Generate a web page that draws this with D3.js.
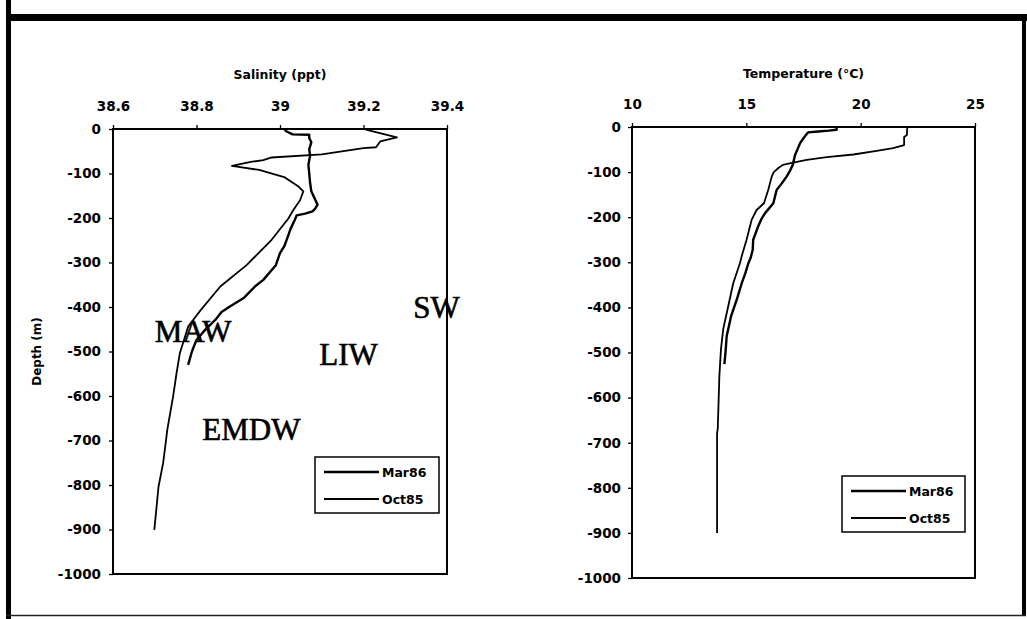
<!DOCTYPE html>
<html>
<head>
<meta charset="utf-8">
<script src="https://cdn.jsdelivr.net/npm/d3@7"></script>
<style>
  body { margin: 0; background: #fff; }
  svg { display: block; }
  .tick text { font-family: "DejaVu Sans", Arial, sans-serif; font-weight: bold; font-size: 13.5px; fill: #000; }
  .tick line { stroke: #000; stroke-width: 1.3px; }
  .domain { display: none; }
</style>
</head>
<body>
<svg id="chart" width="1027" height="619"></svg>
<script>
// Tick values
const depthTicks = [0, -100, -200, -300, -400, -500, -600, -700, -800, -900, -1000];
const salinityTicks = [38.6, 38.8, 39, 39.2, 39.4];
const temperatureTicks = [10, 15, 20, 25];
const seriesNames = ["Mar86", "Oct85"];

// Salinity profiles: [salinity (ppt), depth (m)]
const salinityMar86 = [
  [39.01, 0], [39.015, -5], [39.03, -12], [39.07, -13], [39.07, -20], [39.075, -30],
  [39.07, -45], [39.072, -60], [39.068, -80], [39.07, -100], [39.072, -120], [39.075, -140],
  [39.08, -150], [39.085, -160], [39.09, -170], [39.085, -178], [39.078, -185], [39.06, -190],
  [39.04, -194], [39.035, -205], [39.025, -225], [39.016, -249], [39.01, -264], [39.0, -279],
  [38.99, -306], [38.96, -339], [38.94, -354], [38.913, -380], [38.88, -399], [38.86, -411],
  [38.845, -429], [38.82, -452], [38.80, -474], [38.789, -500], [38.78, -530]
];
const salinityOct85 = [
  [39.20, 0], [39.22, -5], [39.28, -19], [39.24, -28], [39.23, -41], [39.20, -43],
  [39.10, -57], [38.98, -64], [38.96, -70], [38.93, -74], [38.885, -83], [38.95, -92],
  [39.01, -108], [39.045, -130], [39.056, -140], [39.048, -160], [39.032, -182], [39.02, -201],
  [38.98, -249], [38.92, -306], [38.857, -354], [38.81, -407], [38.78, -444], [38.77, -474],
  [38.76, -504], [38.752, -550], [38.744, -601], [38.73, -676], [38.727, -700], [38.72, -751],
  [38.709, -804], [38.699, -901]
];

// Temperature profiles: [temperature (°C), depth (m)]
const temperatureMar86 = [
  [18.95, 0], [18.95, -6], [18.6, -8], [18.14, -10], [17.7, -12], [17.6, -18], [17.5, -25],
  [17.4, -32], [17.35, -36], [17.25, -48], [17.13, -62], [17.03, -84], [16.9, -98],
  [16.76, -110], [16.55, -125], [16.33, -139], [16.25, -155], [16.18, -169], [15.82, -191],
  [15.65, -205], [15.52, -220], [15.3, -250], [15.28, -272], [15.19, -290], [15.09, -302],
  [14.95, -325], [14.8, -346], [14.58, -383], [14.33, -420], [14.14, -464], [14.1, -493],
  [14.04, -526]
];
const temperatureOct85 = [
  [22.04, 0], [22.02, -18], [21.9, -22], [21.9, -40], [21.42, -47], [20.7, -53], [19.68, -61],
  [18.52, -67], [17.64, -73], [17.05, -79], [16.6, -84], [16.4, -91], [16.2, -100],
  [16.11, -110], [15.96, -139], [15.77, -169], [15.45, -184], [15.23, -206], [15.01, -250],
  [14.8, -286], [14.72, -302], [14.43, -346], [14.21, -397], [13.99, -448], [13.89, -493],
  [13.82, -553], [13.78, -620], [13.75, -669], [13.72, -680], [13.72, -900]
];

// Water-mass annotations on the salinity panel: [name, salinity, depth]
const waterMasses = [
  ["MAW", 38.70, -479], ["SW", 39.319, -425], ["LIW", 39.094, -530], ["EMDW", 38.814, -699]
];

const svg = d3.select("#chart");

// Page frame
svg.append("rect").attr("x", 6).attr("y", 14).attr("width", 1021).attr("height", 7).attr("fill", "#000");
svg.append("rect").attr("x", 6).attr("y", 0).attr("width", 5).attr("height", 619).attr("fill", "#000");
svg.append("rect").attr("x", 1022).attr("y", 14).attr("width", 4).attr("height", 602).attr("fill", "#000");
svg.append("line").attr("x1", 6).attr("x2", 1026).attr("y1", 615.5).attr("y2", 615.5)
  .attr("stroke", "#222").attr("stroke-width", 1.5);

const lineWidths = { Mar86: 2.4, Oct85: 1.8 };

const panels = [
  {
    left: 113, right: 447, top: 129, bottom: 574,
    domain: [38.6, 39.4], ticks: salinityTicks, title: "Salinity (ppt)", titleY: 79,
    yPad: 8, series: { Mar86: salinityMar86, Oct85: salinityOct85 },
    legend: { x: 315, y: 457, w: 124, h: 56 }, annotations: waterMasses
  },
  {
    left: 632, right: 975, top: 127, bottom: 578,
    domain: [10, 25], ticks: temperatureTicks, title: "Temperature (\u00B0C)", titleY: 78,
    yPad: 7, series: { Mar86: temperatureMar86, Oct85: temperatureOct85 },
    legend: { x: 842, y: 476, w: 123, h: 56 }, annotations: []
  }
];

panels.forEach((p, pi) => {
  const x = d3.scaleLinear().domain(p.domain).range([p.left, p.right]);
  const y = d3.scaleLinear().domain([0, -1000]).range([p.top, p.bottom]);
  const g = svg.append("g");

  g.append("g")
    .attr("transform", `translate(0,${p.top})`)
    .call(d3.axisTop(x).tickValues(p.ticks).tickFormat(d => String(d))
      .tickSize(4).tickSizeOuter(0).tickPadding(14));

  g.append("g")
    .attr("transform", `translate(${p.left},0)`)
    .call(d3.axisLeft(y).tickValues(depthTicks).tickFormat(d => String(d))
      .tickSize(4).tickSizeOuter(0).tickPadding(p.yPad));

  // Plot frame
  g.append("rect")
    .attr("x", p.left).attr("y", p.top)
    .attr("width", p.right - p.left).attr("height", p.bottom - p.top)
    .attr("fill", "none").attr("stroke", "#000").attr("stroke-width", 2);

  g.append("text")
    .attr("x", (p.left + p.right) / 2).attr("y", p.titleY)
    .attr("text-anchor", "middle")
    .style("font-family", "DejaVu Sans, Arial, sans-serif").style("font-weight", "bold")
    .style("font-size", "12.5px")
    .text(p.title);

  const line = d3.line().x(d => x(d[0])).y(d => y(d[1]));
  seriesNames.forEach(name => {
    g.append("path")
      .datum(p.series[name])
      .attr("d", line)
      .attr("fill", "none")
      .attr("stroke", "#000")
      .attr("stroke-width", lineWidths[name])
      .attr("stroke-linejoin", "round");
  });

  p.annotations.forEach(([label, s, d]) => {
    g.append("text")
      .attr("x", x(s)).attr("y", y(d))
      .style("font-family", "Liberation Serif, Times New Roman, serif")
      .style("font-size", "31px")
      .attr("stroke", "#000").attr("stroke-width", 0.6)
      .text(label);
  });

  // Legend
  const L = p.legend;
  const lg = g.append("g").attr("transform", `translate(${L.x},${L.y})`);
  lg.append("rect").attr("width", L.w).attr("height", L.h)
    .attr("fill", "#fff").attr("stroke", "#000").attr("stroke-width", 1.5);
  seriesNames.forEach((name, i) => {
    const cy = 15 + i * 27;
    lg.append("line").attr("x1", 9).attr("x2", 64).attr("y1", cy).attr("y2", cy)
      .attr("stroke", "#000").attr("stroke-width", lineWidths[name]);
    lg.append("text").attr("x", 67).attr("y", cy + 4.5)
      .style("font-family", "DejaVu Sans, Arial, sans-serif").style("font-weight", "bold")
      .style("font-size", "12.5px")
      .text(name);
  });

  // Depth axis title on the salinity panel only
  if (pi === 0) {
    g.append("text")
      .attr("transform", `translate(41,${(p.top + p.bottom) / 2}) rotate(-90)`)
      .attr("text-anchor", "middle")
      .style("font-family", "DejaVu Sans, Arial, sans-serif").style("font-weight", "bold")
      .style("font-size", "12px")
      .text("Depth (m)");
  }
});
</script>
</body>
</html>
